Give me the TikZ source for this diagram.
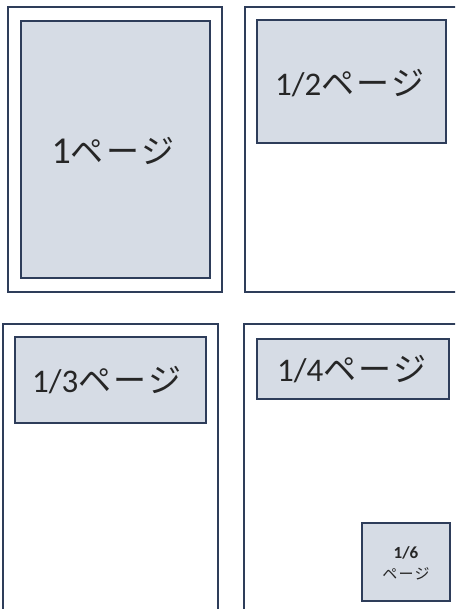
\documentclass[tikz,border=0pt]{standalone}
\usepackage{fontspec}
\setmainfont{Carlito}
\newfontfamily\cjk[LetterSpace=8]{Noto Sans CJK JP}
\definecolor{navy}{HTML}{2E3D5A}
\definecolor{paper}{HTML}{D6DCE5}
\tikzset{
  pagebox/.style={draw=navy, line width=1.8pt, fill=white},
  adbox/.style={draw=navy, line width=1.8pt, fill=paper},
  lbl/.style={font=\fontsize{33}{36}\selectfont, text=black!85, inner sep=0pt},
  small/.style={font=\fontsize{16}{21}\selectfont, text=black!85, inner sep=0pt, align=center},
}
\begin{document}
\begin{tikzpicture}[x=1pt,y=-1pt]
\useasboundingbox (0,0) rectangle (455,609);
\clip (0,0) rectangle (455,609);
% page outlines
\draw[pagebox] (8,7) rectangle (222,292);
\draw[pagebox] (245,7) rectangle (470,292);
\draw[pagebox] (3,324) rectangle (218,625);
\draw[pagebox] (244,324) rectangle (470,625);
% ad boxes
\draw[adbox] (21,21) rectangle (210,278);
\node[lbl] (full) at (113,151) {\fontsize{38}{40}\selectfont 1{\cjk\fontsize{33}{36}\selectfont ページ}};
\draw[adbox] (257,20) rectangle (446,143);
\node[lbl] (half) at (350,83) {1/2{\cjk ページ}};
\draw[adbox] (15,337) rectangle (206,423);
\node[lbl] (third) at (107,380) {1/3{\cjk ページ}};
\draw[adbox] (257,339) rectangle (449,399);
\node[lbl] (quarter) at (352,369) {1/4{\cjk ページ}};
\draw[adbox] (362,523) rectangle (450,601);
\node[small] (sixth) at (406,563) {\textbf{\fontsize{17}{21}\selectfont 1/6}\\{\cjk\fontsize{15}{18}\selectfont ページ}};
\end{tikzpicture}
\end{document}
